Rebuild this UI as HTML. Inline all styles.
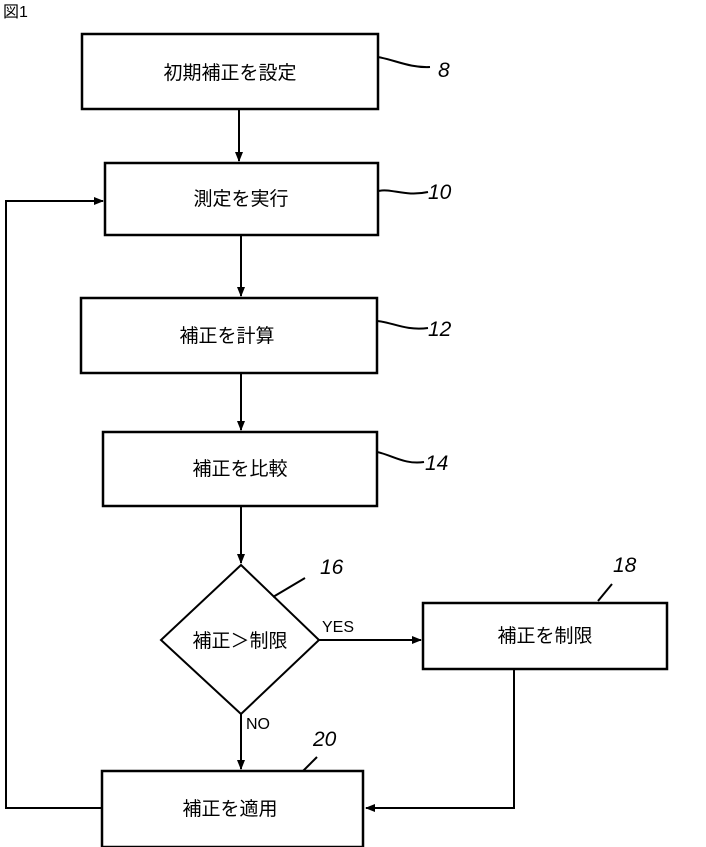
<!DOCTYPE html>
<html><head><meta charset="utf-8"><style>
html,body{margin:0;padding:0;background:#fff;width:706px;height:847px;overflow:hidden}
svg{display:block}
text{font-family:"Liberation Sans","Noto Sans CJK JP",sans-serif;fill:#000}
</style></head><body>
<svg width="706" height="847" viewBox="0 0 706 847" xmlns="http://www.w3.org/2000/svg">
<defs><marker id="a" markerWidth="10" markerHeight="10" refX="9" refY="5" orient="auto" markerUnits="userSpaceOnUse"><path d="M0,1 L10,5 L0,9 z" fill="#000"/></marker></defs>
<text x="3" y="17" font-size="16">図1</text>
<g fill="none" stroke="#000" stroke-width="2.5">
<rect x="82" y="34" width="296" height="75"/>
<rect x="105" y="163" width="273" height="72"/>
<rect x="81" y="298" width="296" height="75"/>
<rect x="103" y="432" width="274" height="74"/>
<polygon points="241,565 319,640 241,714 161,640" stroke-width="2"/>
<rect x="423" y="603" width="244" height="66"/>
<rect x="102" y="771" width="261" height="76"/>
</g>
<g fill="none" stroke="#000" stroke-width="2">
<line x1="239" y1="109" x2="239" y2="161" marker-end="url(#a)"/>
<line x1="241" y1="235" x2="241" y2="296" marker-end="url(#a)"/>
<line x1="241" y1="373" x2="241" y2="430" marker-end="url(#a)"/>
<line x1="241" y1="506" x2="241" y2="563" marker-end="url(#a)"/>
<line x1="319" y1="640" x2="421" y2="640" marker-end="url(#a)"/>
<line x1="241" y1="714" x2="241" y2="769" marker-end="url(#a)"/>
<polyline points="514,669 514,808 366,808" marker-end="url(#a)"/>
<polyline points="102,808 6,808 6,201 103,201" marker-end="url(#a)"/>
<path d="M378,57 C395,60 410,68 430,67"/>
<path d="M378,191 C392,188 405,197 428,192"/>
<path d="M377,321 C392,322 405,331 428,328"/>
<path d="M377,452 C392,455 405,465 424,462"/>
<path d="M273,597 L305,578"/>
<path d="M598,601 L612,584"/>
<path d="M303,771 L317,757"/>
</g>
<g font-size="19" text-anchor="middle">
<text x="230" y="79">初期補正を設定</text>
<text x="241" y="205">測定を実行</text>
<text x="227" y="342">補正を計算</text>
<text x="240" y="475">補正を比較</text>
<text x="240" y="647">補正＞制限</text>
<text x="545" y="642">補正を制限</text>
<text x="230" y="815">補正を適用</text>
</g>
<g font-size="21" font-style="italic">
<text x="438" y="77">8</text>
<text x="428" y="199">10</text>
<text x="428" y="336">12</text>
<text x="425" y="470">14</text>
<text x="320" y="574">16</text>
<text x="613" y="572">18</text>
<text x="313" y="746">20</text>
</g>
<g font-size="16">
<text x="322" y="632">YES</text>
<text x="246" y="729">NO</text>
</g>
</svg>
</body></html>
